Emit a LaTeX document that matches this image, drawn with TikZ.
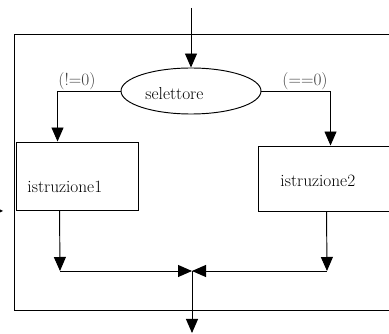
\documentclass[tikz,border=0pt]{standalone}
\usetikzlibrary{arrows.meta,shapes.geometric}
\begin{document}
\begin{tikzpicture}[x=1pt,y=-1pt,
  line width=0.95pt,
  font=\fontsize{17.3}{20}\selectfont,
  arr/.style={-{Triangle[length=14pt,width=12pt]}},
  blk/.style={draw,rectangle,inner sep=0pt},
  txt/.style={inner sep=0pt,anchor=base west,text=black},
  lbl/.style={inner sep=0pt,anchor=base west,text=black!75}]
\useasboundingbox (0,0) rectangle (389,334);

% outer frame of the selection block
\node[blk,minimum width=381pt,minimum height=276pt] (frame) at (204.5,172) {};

% selector and the two branches
\node[draw,ellipse,inner sep=0pt,minimum width=140pt,minimum height=46pt,fill=white] (sel) at (191,91) {};
\node[txt] (tsel) at (145,100) {selettore};

\node[blk,minimum width=122pt,minimum height=68pt] (i1) at (77,176) {};
\node[txt] (t1) at (27,193) {istruzione1};

\node[blk,minimum width=137pt,minimum height=65pt] (i2) at (326.5,178.5) {};
\node[txt] (t2) at (280,187) {istruzione2};

\node[lbl] (l1) at (58,86) {(!=0)};
\node[lbl] (l2) at (282,86) {(==0)};

% entry, join and exit points
\coordinate (in) at (191,8);
\coordinate (m1) at (60,271);
\coordinate (m2) at (327,271);
\coordinate (j) at (192,271);
\coordinate (out) at (192,333);

% connectors
\draw[arr] (in) -- (sel.north);
\draw[arr] (sel.west) -| ([xshift=42pt]i1.north west);
\draw[arr] (sel.east) -| ([xshift=73pt]i2.north west);
\draw[arr] ([xshift=44pt]i1.south west) -- (m1);
\draw[arr] ([xshift=69pt]i2.south west) -- (m2);
\draw[arr] (m1) -- (j);
\draw[arr] (m2) -- (j);
\draw[arr] (j) -- (out);

% small arrow tip at the left edge
\fill (0,209.5) -- (3,211) -- (0,212.5) -- cycle;
\end{tikzpicture}
\end{document}
